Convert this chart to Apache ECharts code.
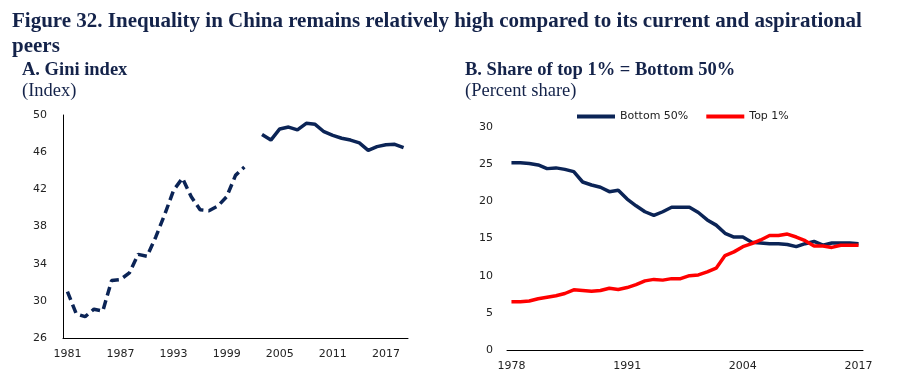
<!DOCTYPE html>
<html>
<head>
<meta charset="utf-8">
<script src="https://cdn.jsdelivr.net/npm/echarts@6/dist/echarts.min.js"></script>
<style>
  html, body { margin: 0; padding: 0; background: #fff; }
  #main { width: 906px; height: 377px; }
</style>
</head>
<body>
<div id="main"></div>
<script>
// Panel A: Gini index, 1981-2019 (2002 missing)
const giniYears = [];
for (let y = 1981; y <= 2019; y++) giniYears.push(String(y));
const giniDashed = [31.0, 28.6, 28.3, 29.1, 28.9, 32.2, 32.3, 33.0, 35.0, 34.8,
  36.9, 39.3, 41.9, 43.2, 41.2, 39.8, 39.7, 40.2, 41.2, 43.5, 44.4];
const giniSolid = [47.9, 47.3, 48.5, 48.7, 48.4, 49.1, 49.0, 48.2, 47.8, 47.5,
  47.3, 47.0, 46.2, 46.6, 46.8, 46.85, 46.5];
const giniTicks = [26, 30, 34, 38, 42, 46, 50];

// Panel B: share of income, 1978-2017
const shareYears = [];
for (let y = 1978; y <= 2017; y++) shareYears.push(String(y));
const bottom50 = [25.2, 25.2, 25.1, 24.9, 24.4, 24.5, 24.3, 24.0, 22.6, 22.2,
  21.9, 21.3, 21.5, 20.3, 19.4, 18.6, 18.1, 18.6, 19.2, 19.2,
  19.2, 18.5, 17.5, 16.8, 15.7, 15.2, 15.2, 14.5, 14.4, 14.3,
  14.3, 14.2, 13.9, 14.3, 14.6, 14.1, 14.4, 14.4, 14.4, 14.3];
const top1 = [6.5, 6.5, 6.6, 6.9, 7.1, 7.3, 7.6, 8.1, 8.0, 7.9,
  8.0, 8.3, 8.15, 8.4, 8.8, 9.3, 9.5, 9.4, 9.6, 9.6,
  10.0, 10.1, 10.5, 11.0, 12.7, 13.2, 13.9, 14.3, 14.8, 15.4,
  15.4, 15.6, 15.2, 14.7, 14.0, 14.0, 13.8, 14.1, 14.1, 14.1];

// dashed segment ends in 2001, solid one starts in 2003
const dashedData = giniYears.map((y, i) => (i < giniDashed.length ? giniDashed[i] : null));
const solidStart = giniYears.indexOf("2003");
const solidData = giniYears.map((y, i) => (i >= solidStart ? giniSolid[i - solidStart] : null));

const navy = "#0b2456";
const red = "#ff0000";
const labelFont = { color: "#222", fontFamily: "DejaVu Sans", fontSize: 11 };
const serif = "Liberation Serif";
const titleColor = "#14234a";

const chart = echarts.init(document.getElementById("main"));
chart.setOption({
  animation: false,
  title: [
    {
      text: "Figure 32. Inequality in China remains relatively high compared to its current and aspirational\npeers",
      left: 12, top: 9, padding: 0,
      textStyle: { fontFamily: serif, fontWeight: "bold", fontSize: 21, lineHeight: 25, color: titleColor }
    },
    {
      text: "A. Gini index",
      left: 22, top: 61, padding: 0,
      textStyle: { fontFamily: serif, fontWeight: "bold", fontSize: 18.5, color: titleColor }
    },
    {
      text: "(Index)",
      left: 22, top: 82, padding: 0,
      textStyle: { fontFamily: serif, fontWeight: "normal", fontSize: 18.5, color: titleColor }
    },
    {
      text: "B. Share of top 1% = Bottom 50%",
      left: 465, top: 61, padding: 0,
      textStyle: { fontFamily: serif, fontWeight: "bold", fontSize: 18.5, color: titleColor }
    },
    {
      text: "(Percent share)",
      left: 465, top: 82, padding: 0,
      textStyle: { fontFamily: serif, fontWeight: "normal", fontSize: 18.5, color: titleColor }
    }
  ],
  legend: {
    data: ["Bottom 50%", "Top 1%"],
    left: 577, top: 111, padding: 0,
    icon: "rect",
    itemWidth: 38, itemHeight: 4,
    itemGap: 18,
    textStyle: { color: "#222", fontFamily: "DejaVu Sans", fontSize: 11 }
  },
  grid: [
    { left: 63, top: 115, width: 345, height: 223 },
    { left: 507, top: 127, width: 356, height: 223 }
  ],
  xAxis: [
    {
      type: "category", gridIndex: 0, data: giniYears, boundaryGap: true,
      axisLine: { lineStyle: { color: "#000", width: 1 } },
      axisTick: { show: false },
      axisLabel: Object.assign({ interval: 5, margin: 11 }, labelFont)
    },
    {
      type: "category", gridIndex: 1, data: shareYears, boundaryGap: true,
      axisLine: { lineStyle: { color: "#000", width: 1 } },
      axisTick: { show: false },
      axisLabel: Object.assign({ interval: 12, margin: 11 }, labelFont)
    }
  ],
  yAxis: [
    {
      type: "value", gridIndex: 0, min: 26, max: 50,
      axisLine: { show: true, lineStyle: { color: "#000", width: 1 } },
      axisTick: { show: false },
      splitLine: { show: false },
      axisLabel: Object.assign({ margin: 16, customValues: giniTicks }, labelFont)
    },
    {
      type: "value", gridIndex: 1, min: 0, max: 30, interval: 5,
      axisLine: { show: false },
      axisTick: { show: false },
      splitLine: { show: false },
      axisLabel: Object.assign({ margin: 14 }, labelFont)
    }
  ],
  series: [
    {
      name: "Gini (dashed)", type: "line", xAxisIndex: 0, yAxisIndex: 0,
      data: dashedData, showSymbol: false, connectNulls: false,
      lineStyle: { color: navy, width: 3.5, type: [9, 5] }
    },
    {
      name: "Gini", type: "line", xAxisIndex: 0, yAxisIndex: 0,
      data: solidData, showSymbol: false, connectNulls: false,
      lineStyle: { color: navy, width: 3.5 }
    },
    {
      name: "Bottom 50%", type: "line", xAxisIndex: 1, yAxisIndex: 1,
      data: bottom50, showSymbol: false, color: navy,
      lineStyle: { color: navy, width: 3.5 }
    },
    {
      name: "Top 1%", type: "line", xAxisIndex: 1, yAxisIndex: 1,
      data: top1, showSymbol: false, color: red,
      lineStyle: { color: red, width: 3.5 }
    }
  ]
});
</script>
</body>
</html>
